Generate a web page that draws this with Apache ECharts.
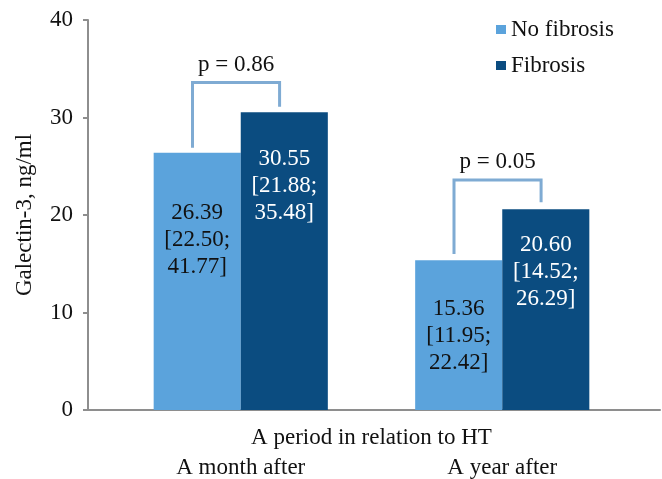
<!DOCTYPE html>
<html>
<head>
<meta charset="utf-8">
<script src="https://cdn.jsdelivr.net/npm/echarts@6/dist/echarts.min.js"></script>
<style>
  html, body { margin: 0; padding: 0; background: #fff; }
  #chart { width: 662px; height: 479px; }
</style>
</head>
<body>
<div id="chart"></div>
<script>
// Galectin-3 by period after HT, median [IQR]
const categories = ['A month after', 'A year after'];
const noFibrosis = [26.39, 15.36];
const fibrosis = [30.55, 20.60];
const noFibrosisIqr = [['22.50', '41.77'], ['11.95', '22.42']];
const fibrosisIqr = [['21.88', '35.48'], ['14.52', '26.29']];
const yTicks = [0, 10, 20, 30, 40];

// Comparison brackets: [category, top, left leg end, right leg end]
const pLabels = ['p = 0.86', 'p = 0.05'];
const brackets = [[0, 33.6, 26.9, 31.1], [1, 23.6, 16.0, 21.3]];

// Distance of the in-bar labels from bar tops
const noFibLabelGap = [47, 35];
const fibLabelGap = [33, 22];

const FONT = 'Liberation Serif';
const FS = 23;
const LIGHT = '#5ba3dc';
const DARK = '#0b4c80';
const AXIS = '#8e8e8e';

function fmt(v) { return v.toFixed(2); }

const chart = echarts.init(document.getElementById('chart'), null, { renderer: 'canvas' });

const barLabel = (color) => ({
  show: true,
  position: 'insideTop',
  color: color,
  fontFamily: FONT,
  fontSize: FS,
  lineHeight: 27,
  align: 'center'
});

chart.setOption({
  animation: false,
  backgroundColor: '#fff',
  grid: [
    { left: 88, right: 2, top: 20, bottom: 69, outerBoundsMode: 'none', containLabel: false },
    { left: 110, right: 29, top: 20, bottom: 69, outerBoundsMode: 'none', containLabel: false }
  ],
  legend: {
    orient: 'vertical',
    left: 491,
    top: 13,
    itemWidth: 10,
    itemHeight: 9,
    itemGap: 13,
    icon: 'rect',
    textStyle: { fontFamily: FONT, fontSize: FS, color: '#111' },
    data: ['No fibrosis', 'Fibrosis']
  },
  xAxis: [
    {
      gridIndex: 0, type: 'value', min: 0, max: 1,
      axisLine: { show: true, lineStyle: { color: AXIS, width: 2 } },
      axisTick: { show: false }, axisLabel: { show: false }, splitLine: { show: false }
    },
    {
      gridIndex: 1, type: 'category', data: categories,
      axisLine: { show: false }, axisTick: { show: false },
      axisLabel: { margin: 46, fontFamily: FONT, fontSize: FS, color: '#111' },
      name: 'A period in relation to HT',
      nameLocation: 'middle',
      nameGap: 16,
      nameMoveOverlap: false,
      nameTextStyle: { fontFamily: FONT, fontSize: FS, color: '#111', verticalAlign: 'top' }
    }
  ],
  yAxis: [
    {
      gridIndex: 0, type: 'value', min: 0, max: 40, interval: 10,
      axisLine: { show: true, lineStyle: { color: AXIS, width: 2 } },
      axisTick: { show: true, inside: false, length: 5, lineStyle: { color: AXIS, width: 2 } },
      axisLabel: {
        margin: 15, fontFamily: FONT, fontSize: FS, color: '#111',
        formatter: (v) => (yTicks.indexOf(v) >= 0 ? String(v) : '')
      },
      splitLine: { show: false },
      name: 'Galectin-3, ng/ml',
      nameLocation: 'middle',
      nameGap: 52,
      nameMoveOverlap: false,
      nameTextStyle: { fontFamily: FONT, fontSize: FS, color: '#111' }
    },
    {
      gridIndex: 1, type: 'value', min: 0, max: 40, interval: 10, show: false,
      splitLine: { show: false }
    }
  ],
  series: [
    {
      name: 'No fibrosis', type: 'bar', xAxisIndex: 1, yAxisIndex: 1,
      barWidth: '33.3%', barGap: '0%',
      itemStyle: { color: LIGHT },
      data: noFibrosis.map((v, i) => ({
        value: v,
        label: Object.assign(barLabel('#111'), {
          distance: noFibLabelGap[i],
          formatter: fmt(v) + '\n[' + noFibrosisIqr[i][0] + ';\n' + noFibrosisIqr[i][1] + ']'
        })
      }))
    },
    {
      name: 'Fibrosis', type: 'bar', xAxisIndex: 1, yAxisIndex: 1,
      barWidth: '33.3%', barGap: '0%',
      itemStyle: { color: DARK },
      data: fibrosis.map((v, i) => ({
        value: v,
        label: Object.assign(barLabel('#fff'), {
          distance: fibLabelGap[i],
          formatter: fmt(v) + '\n[' + fibrosisIqr[i][0] + ';\n' + fibrosisIqr[i][1] + ']'
        })
      }))
    },
    {
      // significance brackets between paired bars
      type: 'custom', xAxisIndex: 1, yAxisIndex: 1,
      silent: true, z: 5,
      data: brackets,
      renderItem: function (params, api) {
        const cat = api.value(0);
        const top = api.coord([cat, api.value(1)]);
        const lb = api.coord([cat, api.value(2)]);
        const rb = api.coord([cat, api.value(3)]);
        const band = api.size([1, 0])[0];
        const barW = band * 0.333;
        const shift = band * 0.018;
        const xl = top[0] - barW / 2 - shift;
        const xr = top[0] + barW / 2 - shift;
        return {
          type: 'group',
          children: [
            {
              type: 'polyline',
              shape: { points: [[xl, lb[1]], [xl, top[1]], [xr, top[1]], [xr, rb[1]]] },
              style: { stroke: '#7fabd3', lineWidth: 3, fill: null }
            },
            {
              type: 'text',
              x: (xl + xr) / 2,
              y: top[1] - 6,
              style: {
                text: pLabels[params.dataIndex],
                fontFamily: FONT, fontSize: FS, fill: '#111',
                align: 'center', verticalAlign: 'bottom'
              }
            }
          ]
        };
      }
    }
  ]
});
</script>
</body>
</html>
